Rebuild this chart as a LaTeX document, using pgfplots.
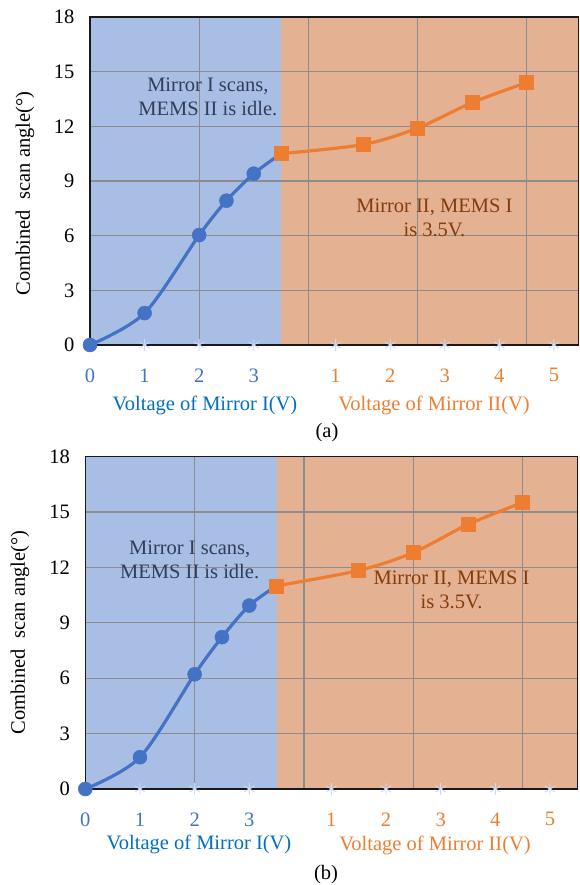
\documentclass[border=0pt]{standalone}
\usepackage{pgfplots}
\pgfplotsset{compat=1.18}
\usepackage{fontspec}
\setmainfont{Liberation Serif}
\definecolor{bgblue}{RGB}{169,190,228}
\definecolor{bgorange}{RGB}{228,178,147}
\definecolor{lblue}{RGB}{68,114,196}
\definecolor{lorange}{RGB}{237,125,49}
\definecolor{labblue}{RGB}{0,112,192}
\definecolor{txtblue}{RGB}{47,62,90}
\definecolor{txtbrown}{RGB}{132,60,12}
\definecolor{gridc}{RGB}{140,140,140}
\definecolor{starc}{RGB}{205,220,245}
\newcommand{\bigf}{\fontsize{20.5}{24}\selectfont}
\newcommand{\mygrid}[1]{%
  \draw[gridc, line width=1.2pt] (axis cs:0,3) -- (axis cs:#1,3);
  \draw[gridc, line width=1.2pt] (axis cs:0,6) -- (axis cs:#1,6);
  \draw[gridc, line width=1.2pt] (axis cs:0,9) -- (axis cs:#1,9);
  \draw[gridc, line width=1.2pt] (axis cs:0,12) -- (axis cs:#1,12);
  \draw[gridc, line width=1.2pt] (axis cs:0,15) -- (axis cs:#1,15);
  \draw[gridc, line width=1.2pt] (axis cs:2,0) -- (axis cs:2,18);
  \draw[gridc, line width=1.2pt] (axis cs:4,0) -- (axis cs:4,18);
  \draw[gridc, line width=1.2pt] (axis cs:6,0) -- (axis cs:6,18);
  \draw[gridc, line width=1.2pt] (axis cs:8,0) -- (axis cs:8,18);
}
\pgfplotsset{
  myax/.style={
    scale only axis,
    clip=false,
    xmin=0,ymin=0,ymax=18,
    ytick={0,3,...,18},
    xtick={0,1,2,3,4.5,5.5,6.5,7.5,8.5},
    xticklabels={\textcolor{lblue}{0},\textcolor{lblue}{1},\textcolor{lblue}{2},\textcolor{lblue}{3},
      \textcolor{lorange}{1},\textcolor{lorange}{2},\textcolor{lorange}{3},\textcolor{lorange}{4},\textcolor{lorange}{5}},
    major tick length=0pt,
    tick label style={font=\bigf},
    /pgf/number format/assume math mode=true,
    yticklabel style={xshift=-12pt},
    xticklabel style={yshift=-20pt},
    axis on top,
    axis line style={line width=1.6pt, black!90},
  },
  bgb/.style={fill=bgblue, draw=none, forget plot},
  bgo/.style={fill=bgorange, draw=none, forget plot},
  stars/.style={only marks, mark=asterisk, mark size=6pt, color=starc, mark options={line width=0.9pt}, forget plot},
  blueline/.style={lblue, line width=3.2pt, smooth, mark=*, mark size=7pt, mark options={fill=lblue, draw=lblue, line width=0.5pt}, mark indices={1,2,3,4,5}},
  orangeline/.style={lorange, line width=3.2pt, smooth, mark=square*, mark size=7pt, mark options={fill=lorange, draw=lorange, line width=0.5pt}},
}
\begin{document}
\begin{tikzpicture}
\path[use as bounding box] (0,0) rectangle (579pt,885pt);
% ---------------- (a) ----------------
\begin{axis}[myax, xmax=8.95, at={(90pt,540pt)}, anchor=south west, width=488.5pt, height=328pt]
\addplot[bgb] coordinates {(0,18) (3.5,18)} \closedcycle;
\addplot[bgo] coordinates {(3.5,18) (8.95,18)} \closedcycle;
\mygrid{8.95}
\addplot[stars] coordinates {(1,0) (2,0) (3,0) (4.5,0) (5.5,0) (6.5,0) (7.5,0) (8.5,0)};
\addplot[blueline] coordinates {(0,0) (1,1.75) (2,6.03) (2.5,7.92) (3,9.4) (3.5,10.5)};
\addplot[orangeline] coordinates {(3.5,10.5) (5,11.0) (6,11.9) (7,13.3) (8,14.4)};
\node[align=center, font=\bigf, text=txtblue] at (axis cs:2.16,13.6) {Mirror I scans,\\MEMS II is idle.};
\node[align=center, font=\bigf, text=txtbrown] at (axis cs:6.31,6.97) {Mirror II, MEMS I\\is 3.5V.};
\end{axis}
\node[font=\bigf, text=labblue] at (205pt,479pt) {Voltage of Mirror I(V)};
\node[font=\bigf, text=lorange] at (434pt,479pt) {Voltage of Mirror II(V)};
\node[font=\bigf] at (327pt,452pt) {(a)};
\node[font=\bigf, rotate=90] at (25pt,691.5pt) {Combined\ \ scan angle(°)};
% ---------------- (b) ----------------
\begin{axis}[myax, xmax=9, at={(85.3pt,96pt)}, anchor=south west, width=492pt, height=332.5pt]
\addplot[bgb] coordinates {(0,18) (3.5,18)} \closedcycle;
\addplot[bgo] coordinates {(3.5,18) (9,18)} \closedcycle;
\mygrid{9}
\addplot[stars] coordinates {(1,0) (2,0) (3,0) (4.5,0) (5.5,0) (6.5,0) (7.5,0) (8.5,0)};
\addplot[blueline] coordinates {(0,0) (1,1.72) (2,6.21) (2.5,8.22) (3,9.93) (3.5,11.0)};
\addplot[orangeline] coordinates {(3.5,11.0) (5,11.83) (6,12.8) (7,14.32) (8,15.51)};
\node[align=center, font=\bigf, text=txtblue] at (axis cs:1.91,12.38) {Mirror I scans,\\MEMS II is idle.};
\node[align=center, font=\bigf, text=txtbrown] at (axis cs:6.70,10.78) {Mirror II, MEMS I\\is 3.5V.};
\end{axis}
\node[font=\bigf, text=labblue] at (199pt,40.7pt) {Voltage of Mirror I(V)};
\node[font=\bigf, text=lorange] at (435pt,39.3pt) {Voltage of Mirror II(V)};
\node[font=\bigf] at (326pt,10.7pt) {(b)};
\node[font=\bigf, rotate=90] at (20pt,252.5pt) {Combined\ \ scan angle(°)};
\end{tikzpicture}
\end{document}
